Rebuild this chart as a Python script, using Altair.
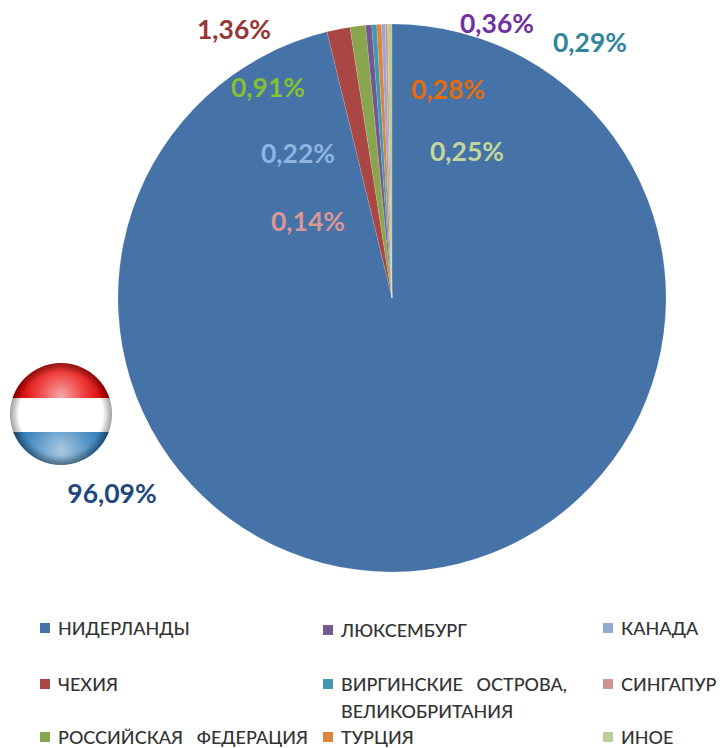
import urllib.parse
import altair as alt
import pandas as pd

countries = ["НИДЕРЛАНДЫ", "ЧЕХИЯ", "РОССИЙСКАЯ ФЕДЕРАЦИЯ", "ЛЮКСЕМБУРГ",
             "ВИРГИНСКИЕ ОСТРОВА, ВЕЛИКОБРИТАНИЯ", "ТУРЦИЯ", "КАНАДА", "СИНГАПУР", "ИНОЕ"]
shares = [96.09, 1.36, 0.91, 0.36, 0.29, 0.28, 0.22, 0.14, 0.25]
slice_colors = ["#4572a7", "#aa4643", "#89a54e", "#71588f", "#4198af",
                "#db843d", "#93a9cf", "#d19392", "#b9cd96"]
value_labels = ["96,09%", "1,36%", "0,91%", "0,36%", "0,29%", "0,28%", "0,22%", "0,14%", "0,25%"]
label_colors = ["#1f497d", "#953735", "#86bf32", "#7030a0", "#31859c",
                "#e46c0a", "#8eb4e3", "#d99694", "#c3d69b"]

OX, OY = 8, 8  # page margin
FONT = "Lato"

pie_df = pd.DataFrame({"country": countries, "share": shares, "idx": range(len(countries))})
pie = alt.Chart(pie_df).mark_arc(radius=274, stroke="#ffffff", strokeWidth=0.3, strokeOpacity=0.4).encode(
    theta=alt.Theta("share:Q", stack=True),
    order=alt.Order("idx:Q"),
    color=alt.Color("country:N", scale=alt.Scale(domain=countries, range=slice_colors), legend=None),
    x=alt.value(392 - OX),
    y=alt.value(298 - OY),
)

label_pos = [(112, 495), (234, 31), (268, 89), (497, 25), (590, 44),
             (448, 91), (298, 155), (308, 223), (467, 153)]
layers = [pie]
for text, col, (px, py) in zip(value_labels, label_colors, label_pos):
    layers.append(
        alt.Chart(pd.DataFrame({"t": [text]})).mark_text(
            font=FONT, fontWeight="bold", fontSize=26.5, color=col, align="center", baseline="middle"
        ).encode(text="t:N", x=alt.value(px - OX), y=alt.value(py - OY))
    )

legend_pos = [(45, 628), (45, 684), (45, 737), (328, 630), (328, 684), (328, 737),
              (608, 628), (608, 684), (608, 737)]
legend_lines = [["НИДЕРЛАНДЫ"], ["ЧЕХИЯ"], ["РОССИЙСКАЯ\u00a0\u00a0\u00a0ФЕДЕРАЦИЯ"], ["ЛЮКСЕМБУРГ"],
                ["ВИРГИНСКИЕ\u00a0\u00a0\u00a0ОСТРОВА,", "ВЕЛИКОБРИТАНИЯ"], ["ТУРЦИЯ"],
                ["КАНАДА"], ["СИНГАПУР"], ["ИНОЕ"]]
for lines, col, (px, py) in zip(legend_lines, slice_colors, legend_pos):
    layers.append(
        alt.Chart(pd.DataFrame({"k": [lines[0]]})).mark_square(size=100, color=col, opacity=1).encode(
            x=alt.value(px - OX), y=alt.value(py - OY)
        )
    )
    for i, line in enumerate(lines):
        layers.append(
            alt.Chart(pd.DataFrame({"t": [line]})).mark_text(
                font=FONT, fontSize=18, fontWeight=500, color="#333333", align="left", baseline="middle"
            ).encode(text="t:N", x=alt.value(px + 13 - OX), y=alt.value(py + 2 + i * 27 - OY))
        )

flag_svg = """<svg xmlns='http://www.w3.org/2000/svg' width='104' height='104' viewBox='0 0 104 104'>
<defs>
<clipPath id='c'><circle cx='52' cy='52' r='51'/></clipPath>
<radialGradient id='r' gradientUnits='userSpaceOnUse' cx='52' cy='34' r='44'><stop offset='0' stop-color='#f7a8a8'/><stop offset='0.55' stop-color='#ee3c3c'/><stop offset='1' stop-color='#d40000'/></radialGradient>
<radialGradient id='b' gradientUnits='userSpaceOnUse' cx='52' cy='88' r='56'><stop offset='0' stop-color='#a9c8e0'/><stop offset='0.55' stop-color='#4a8fc4'/><stop offset='0.85' stop-color='#2a72ad'/><stop offset='1' stop-color='#1a5a90'/></radialGradient>
<radialGradient id='s' gradientUnits='userSpaceOnUse' cx='52' cy='52' r='51'><stop offset='0.82' stop-color='#000' stop-opacity='0'/><stop offset='1' stop-color='#000' stop-opacity='0.38'/></radialGradient>
</defs>
<g clip-path='url(#c)'>
<rect x='0' y='0' width='104' height='36' fill='url(#r)'/>
<rect x='0' y='36' width='104' height='34' fill='#ffffff'/>
<rect x='0' y='70' width='104' height='34' fill='url(#b)'/>
<rect x='0' y='0' width='104' height='104' fill='url(#s)'/>
</g></svg>"""
flag_url = "data:image/svg+xml," + urllib.parse.quote(flag_svg)
flag = alt.Chart(pd.DataFrame({"u": [flag_url]})).mark_image(width=104, height=104).encode(
    url="u:N", x=alt.value(61 - OX), y=alt.value(414 - OY)
)
layers.append(flag)

chart = alt.layer(*layers).properties(
    width=709, height=740, padding=0,
    autosize=alt.AutoSizeParams(type="none"),
    background="#ffffff",
).configure_view(stroke=None)

chart.save("out.html", embed_options={"renderer": "svg", "actions": False})
